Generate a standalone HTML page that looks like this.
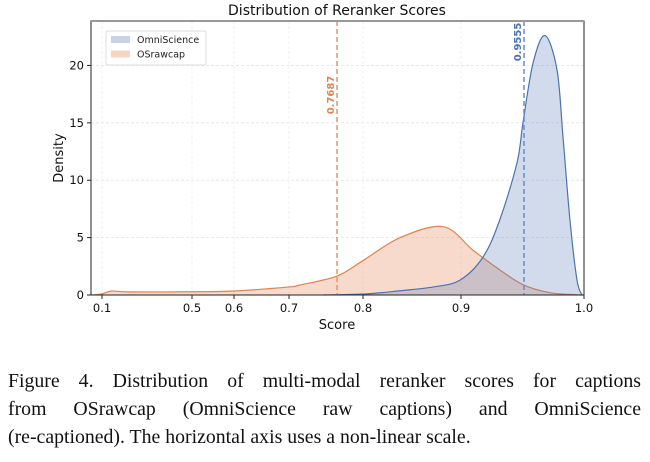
<!DOCTYPE html>
<html><head><meta charset="utf-8">
<style>
body{margin:0;background:#fff;width:650px;height:462px;overflow:hidden;position:relative}
svg{position:absolute;left:0;top:0}
.cap{position:absolute;left:8px;top:367px;width:633px;font-family:"Liberation Serif",serif;font-size:19.8px;line-height:28px;color:#111}
.cap span{display:block;white-space:nowrap}
.cap .j{text-align:justify;text-align-last:justify}
</style></head><body>
<svg id="chart" width="650" height="360"></svg>
<div class="cap"><span class="j">Figure 4. Distribution of multi-modal reranker scores for captions</span><span class="j">from OSrawcap (OmniScience raw captions) and OmniScience</span><span>(re-captioned). The horizontal axis uses a non-linear scale.</span></div>
<script>
const xTicks=[0.1,0.5,0.6,0.7,0.8,0.9,1.0];
const yTicks=[0,5,10,15,20];
const omniScores=[0.75,0.804,0.838,0.872,0.899,0.9194,0.934,0.9493,0.9546,0.9622,0.9711,0.98,0.9844,0.9896,0.9948,0.9985];
const omniDensity=[0,0.1,0.37,0.7,1.3,3.3,6.5,11.5,15,20.2,22.6,19.6,13.8,6.5,1.3,0];
const rawScores=[0.0556,0.1,0.144,0.224,0.5,0.6,0.7,0.7157,0.7687,0.8,0.838,0.882,0.9106,0.934,0.9546,0.9747,0.9948,0.9993];
const rawDensity=[0,0.1,0.35,0.27,0.28,0.35,0.7,0.87,1.65,3.0,5.0,5.95,3.9,2.2,0.9,0.2,0.02,0];
const medians=[0.7687,0.9555];
const medianLabels=["0.7687","0.9555"];

const NS="http://www.w3.org/2000/svg";
const svg=document.getElementById('chart');
const sA=[0.0,0.1,0.5,0.6,0.7,0.7687,0.8,0.9,0.9555,1.0];
const pA=[80,102,192,234,289,337,363,461,524,584];
function X(v){for(let i=0;i<sA.length-1;i++){if(v<=sA[i+1]||i==sA.length-2){const t=(v-sA[i])/(sA[i+1]-sA[i]);return pA[i]+t*(pA[i+1]-pA[i]);}}}
const L=91,R=584,T=21,B=295,ymax=23.87;
function Y(d){return B-d/ymax*(B-T);}
function el(tag,attrs,parent){const e=document.createElementNS(NS,tag);for(const k in attrs)e.setAttribute(k,attrs[k]);(parent||svg).appendChild(e);return e;}
function txt(s,attrs,name){const t=el('text',attrs);t.textContent=s;


return t;}
yTicks.forEach(v=>{if(v>0){const g=el('line',{x1:L,x2:R,y1:Y(v),y2:Y(v),stroke:'#e4e4e4','stroke-dasharray':'3,2','stroke-width':0.8});

}});
xTicks.forEach(v=>{const g=el('line',{x1:X(v),x2:X(v),y1:T,y2:B,stroke:'#eee','stroke-dasharray':'3,2','stroke-width':0.8});

});
function smoothPath(xs,ys){let p='M'+xs[0]+','+ys[0];for(let i=0;i<xs.length-1;i++){const x0=xs[Math.max(0,i-1)],y0=ys[Math.max(0,i-1)],x1=xs[i],y1=ys[i],x2=xs[i+1],y2=ys[i+1],x3=xs[Math.min(xs.length-1,i+2)],y3=ys[Math.min(xs.length-1,i+2)];
let c1y=y1+(y2-y0)/6,c2y=y2-(y3-y1)/6;c1y=Math.min(c1y,B);c2y=Math.min(c2y,B);
p+=' C'+(x1+(x2-x0)/6)+','+c1y+' '+(x2-(x3-x1)/6)+','+c2y+' '+x2+','+y2;}return p;}
function series(sc,de,stroke,fill,name){const xs=sc.map(X),ys=de.map(Y);const d=smoothPath(xs,ys);
const a=el('path',{d:d+' L'+xs[xs.length-1]+','+B+' L'+xs[0]+','+B+'Z',fill:fill,stroke:'none'});


const l=el('path',{d:d,fill:'none',stroke:stroke,'stroke-width':1.2});

}
series(rawScores,rawDensity,'#dd8452','rgba(230,140,95,0.32)','osrawcap');
series(omniScores,omniDensity,'#4c72b0','rgba(90,125,185,0.28)','omniscience');
const mc=['#e8946a','#6a8cc6'],mt=['#dd8452','#4c72b0'],ly=[95,42];
medians.forEach((m,i)=>{const l=el('line',{x1:X(m),x2:X(m),y1:T,y2:B,stroke:mc[i],'stroke-width':1.5,'stroke-dasharray':'5,3'});


txt(medianLabels[i],{x:0,y:0,transform:'translate('+(X(m)-3)+','+ly[i]+') rotate(-90)','text-anchor':'middle',fill:mt[i],'font-size':10,'font-weight':'bold','font-family':'DejaVu Sans, sans-serif'},'median-label-'+i);});
const frame=el('path',{d:'M'+L+','+T+' H'+R+' V'+B+' H'+L+' Z',fill:'none',stroke:'#222','stroke-width':1});


const topSpine=el('line',{x1:L,x2:R,y1:T,y2:T,stroke:'#999','stroke-width':2});


xTicks.forEach(v=>{el('line',{x1:X(v),x2:X(v),y1:B,y2:B+4,stroke:'#222'});
txt(v.toFixed(1),{x:X(v),y:B+17,'text-anchor':'middle','font-size':11.5,'font-family':'DejaVu Sans, sans-serif',fill:'#111'},'x-tick-label');});
yTicks.forEach(v=>{el('line',{x1:L-4,x2:L,y1:Y(v),y2:Y(v),stroke:'#222'});
txt(String(v),{x:L-7,y:Y(v)+4,'text-anchor':'end','font-size':11.5,'font-family':'DejaVu Sans, sans-serif',fill:'#111'},'y-tick-label');});
txt('Score',{x:337,y:329,'text-anchor':'middle','font-size':13,'font-family':'DejaVu Sans, sans-serif',fill:'#111'},'x-axis-title');
txt('Density',{x:0,y:0,transform:'translate(63,158) rotate(-90)','text-anchor':'middle','font-size':13,'font-family':'DejaVu Sans, sans-serif',fill:'#111'},'y-axis-title');
txt('Distribution of Reranker Scores',{x:337,y:15,'text-anchor':'middle','font-size':14,'font-family':'DejaVu Sans, sans-serif',fill:'#111'},'chart-title');
const lg=el('rect',{x:106,y:31,width:100,height:34,fill:'#fff',stroke:'#ddd',rx:2});


const names=['OmniScience','OSrawcap'],cols=['#c6d3e7','#f6d5c4'];
names.forEach((n,i)=>{const r=el('rect',{x:111,y:36+i*14.5,width:19,height:7,fill:cols[i]});


txt(n,{x:137,y:43+i*14.5,'font-size':9.5,'font-family':'DejaVu Sans, sans-serif',fill:'#222'},'legend-entry');});
</script>
</body></html>
